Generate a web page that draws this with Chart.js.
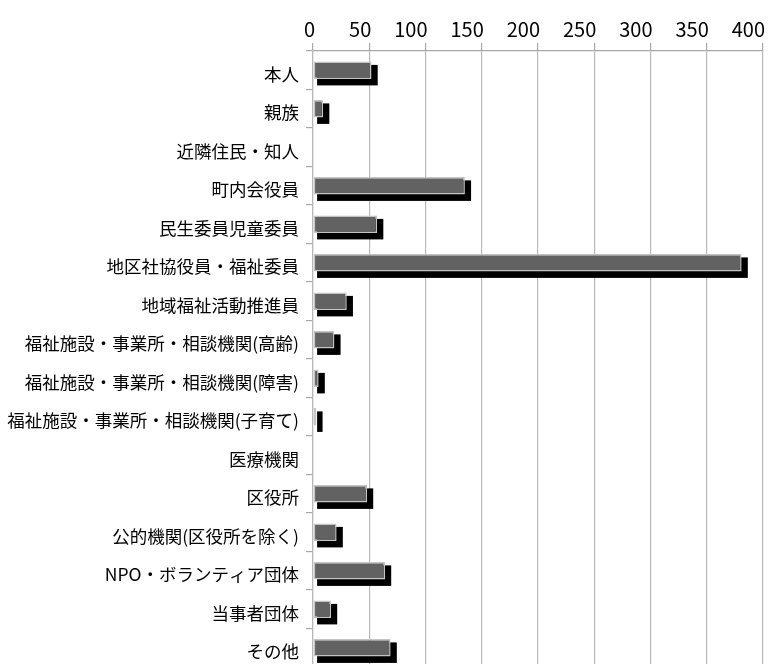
<!DOCTYPE html>
<html lang="ja">
<head>
<meta charset="utf-8">
<script src="https://cdn.jsdelivr.net/npm/chart.js@4/dist/chart.umd.min.js"></script>
<style>
  html, body { margin: 0; padding: 0; background: #fff; overflow: hidden; }
  #wrap { position: relative; width: 774px; height: 668px; }
</style>
</head>
<body>
<div id="wrap"><canvas id="chart"></canvas></div>
<script>
// 相談・連絡の相手別件数
const categories = [
  '本人',
  '親族',
  '近隣住民・知人',
  '町内会役員',
  '民生委員児童委員',
  '地区社協役員・福祉委員',
  '地域福祉活動推進員',
  '福祉施設・事業所・相談機関(高齢)',
  '福祉施設・事業所・相談機関(障害)',
  '福祉施設・事業所・相談機関(子育て)',
  '医療機関',
  '区役所',
  '公的機関(区役所を除く)',
  'NPO・ボランティア団体',
  '当事者団体',
  'その他'
];
const counts = [52, 9, 0, 135, 57, 381, 30, 19, 5, 3, 0, 48, 21, 64, 16, 69];
const axisMax = 400;
const axisStep = 50;

// Black drop shadow drawn behind every bar
const barShadow = {
  id: 'barShadow',
  beforeDatasetsDraw(chart) {
    const ctx = chart.ctx;
    const meta = chart.getDatasetMeta(0);
    ctx.save();
    ctx.fillStyle = '#000000';
    meta.data.forEach((el, i) => {
      if (!counts[i]) return;
      const p = el.getProps(['x', 'y', 'base', 'height'], true);
      const left = p.base + 3.5;
      const right = p.x + 6.2;
      const top = p.y - p.height / 2 + 3.5;
      const bottom = p.y + p.height / 2 + 6.3;
      ctx.fillRect(left, top, right - left, bottom - top);
    });
    ctx.restore();
  }
};

new Chart(document.getElementById('chart'), {
  type: 'bar',
  data: {
    labels: categories,
    datasets: [{
      data: counts,
      backgroundColor: '#626262',
      borderColor: '#c4c4c4',
      borderWidth: 1.5,
      borderSkipped: false,
      barPercentage: 0.46,
      categoryPercentage: 1.0
    }]
  },
  options: {
    indexAxis: 'y',
    responsive: true,
    maintainAspectRatio: false,
    animation: false,
    layout: { padding: { left: 0, right: 11, top: 0, bottom: 1 } },
    plugins: {
      legend: { display: false },
      tooltip: { enabled: false }
    },
    scales: {
      x: {
        position: 'top',
        min: 0,
        max: axisMax,
        afterFit(scale) { scale.height = 51; },
        ticks: {
          stepSize: axisStep,
          align: 'end',
          labelOffset: 2,
          padding: 2,
          color: '#000000',
          font: { family: 'Noto Sans CJK JP', size: 20 }
        },
        grid: {
          color: '#b8b8b8',
          lineWidth: 1.2,
          tickLength: 8,
          tickColor: '#a8a8a8'
        },
        border: { color: '#a8a8a8', width: 1.2 }
      },
      y: {
        afterFit(scale) {
          scale.width = 313;
          scale.paddingTop = 0;
          scale.paddingBottom = 0;
        },
        ticks: {
          autoSkip: false,
          padding: 7,
          labelOffset: 4,
          color: '#000000',
          font: { family: 'Noto Sans CJK JP', size: 17.5 }
        },
        grid: {
          drawOnChartArea: false,
          offset: true,
          tickLength: 7,
          tickColor: '#a8a8a8',
          lineWidth: 1.2
        },
        border: { color: '#b8b8b8', width: 1.2 }
      }
    }
  },
  plugins: [barShadow]
});
</script>
</body>
</html>
